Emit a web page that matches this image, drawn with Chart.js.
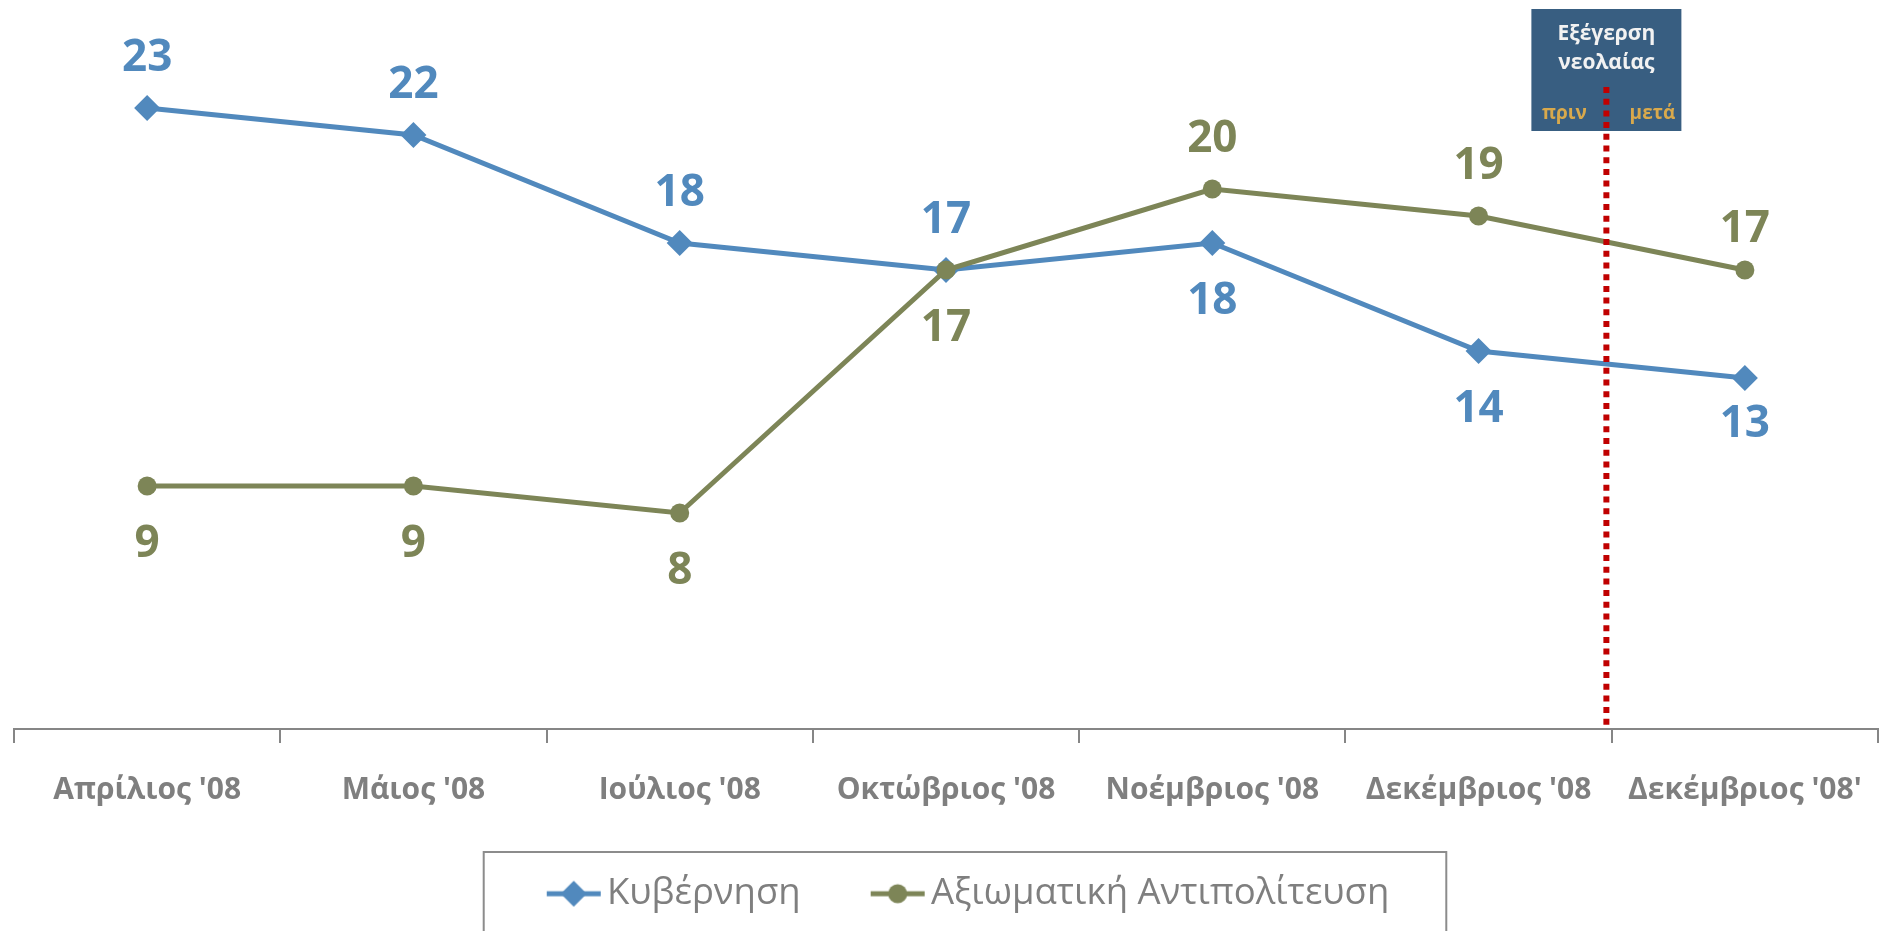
<!DOCTYPE html>
<html>
<head>
<meta charset="utf-8">
<script src="https://cdn.jsdelivr.net/npm/chart.js@4.4.1/dist/chart.umd.min.js"></script>
<style>
  html, body { margin: 0; padding: 0; background: #fff; }
  #wrap { width: 1881px; height: 931px; }
</style>
</head>
<body>
<div id="wrap"><canvas id="chart" width="1881" height="931"></canvas></div>
<script>
const months = ["Απρίλιος '08", "Μάιος '08", "Ιούλιος '08", "Οκτώβριος '08", "Νοέμβριος '08", "Δεκέμβριος '08", "Δεκέμβριος '08'"];
const government = [23, 22, 18, 17, 18, 14, 13];
const opposition = [9, 9, 8, 17, 20, 19, 17];
const seriesNames = ["Κυβέρνηση", "Αξιωματική Αντιπολίτευση"];
// which side of the point each value label goes
const governmentLabelSide = ["above", "above", "above", "above", "below", "below", "below"];
const oppositionLabelSide = ["below", "below", "below", "below", "above", "above", "above"];
const eventTitle = ["Εξέγερση", "νεολαίας"];
const eventSides = ["πριν", "μετά"];

const blue = "#5189bd";
const olive = "#7d8557";
const grey = "#7f7f7f";
const FONT = "'Open Sans', sans-serif";

Chart.defaults.font.family = FONT;

// legend symbol: short line with the marker in the middle.
// the canvas is wider than the symbol, blank on the left, so the
// symbol sits close to its text and the gap goes before it
function legendMarker(color, shape) {
  const c = document.createElement("canvas");
  c.width = 120;
  c.height = 30;
  const g = c.getContext("2d");
  const mx = 62 + 29;
  g.strokeStyle = color;
  g.lineWidth = 5;
  g.beginPath();
  g.moveTo(mx - 27, 15);
  g.lineTo(mx + 27, 15);
  g.stroke();
  g.fillStyle = color;
  g.beginPath();
  if (shape === "diamond") {
    g.moveTo(mx, 2);
    g.lineTo(mx + 13, 15);
    g.lineTo(mx, 28);
    g.lineTo(mx - 13, 15);
    g.closePath();
  } else {
    g.arc(mx, 15, 9.5, 0, Math.PI * 2);
  }
  g.fill();
  return c;
}
const markers = [legendMarker(blue, "diamond"), legendMarker(olive, "circle")];

const valueLabels = {
  id: "valueLabels",
  afterDatasetsDraw(chart) {
    const ctx = chart.ctx;
    ctx.save();
    ctx.font = "bold 44px " + FONT;
    ctx.textAlign = "center";
    ctx.textBaseline = "middle";
    chart.data.datasets.forEach((ds, i) => {
      const meta = chart.getDatasetMeta(i);
      ctx.fillStyle = ds.borderColor;
      meta.data.forEach((pt, j) => {
        const isLast = j === ds.data.length - 1;
        const dy = ds.labelSide[j] === "above" ? (isLast ? -41 : -50) : (isLast ? 46 : 58);
        ctx.fillText(ds.data[j], pt.x, pt.y + dy);
      });
    });
    ctx.restore();
  },
};

// box + dotted line between the two December surveys
const eventMarker = {
  id: "eventMarker",
  afterDatasetsDraw(chart) {
    const { ctx, chartArea, scales } = chart;
    const cx = scales.x.getPixelForValue(5.48);
    ctx.save();
    ctx.fillStyle = "#385e81";
    ctx.fillRect(cx - 75, 9, 150, 122);
    ctx.textAlign = "center";
    ctx.textBaseline = "middle";
    ctx.fillStyle = "#f2f2f2";
    ctx.font = "bold 21px " + FONT;
    ctx.fillText(eventTitle[0], cx, 34);
    ctx.fillText(eventTitle[1], cx, 63);
    ctx.fillStyle = "#d9a94c";
    ctx.font = "bold 19px " + FONT;
    ctx.fillText(eventSides[0], cx - 42, 114);
    ctx.fillText(eventSides[1], cx + 46, 114);
    ctx.strokeStyle = "#c00000";
    ctx.lineWidth = 6;
    ctx.setLineDash([6, 5.7]);
    ctx.beginPath();
    ctx.moveTo(cx, 87);
    ctx.lineTo(cx, chartArea.bottom);
    ctx.stroke();
    ctx.restore();
  },
};

const LEGEND_SHIFT = -3;
const legendFrame = {
  id: "legendFrame",
  afterLayout(chart) {
    chart.legend.left += LEGEND_SHIFT;
    chart.legend.right += LEGEND_SHIFT;
  },
  afterDraw(chart) {
    const boxes = chart.legend.legendHitBoxes;
    const first = boxes[0];
    const last = boxes[boxes.length - 1];
    const left = first.left - 13;
    const right = last.left + last.width + 57;
    const ctx = chart.ctx;
    ctx.save();
    ctx.strokeStyle = "#8c8c8c";
    ctx.lineWidth = 2;
    ctx.strokeRect(left, 852, right - left, 120);
    ctx.restore();
  },
};

new Chart(document.getElementById("chart"), {
  type: "line",
  data: {
    labels: months,
    datasets: [
      {
        label: seriesNames[0],
        data: government,
        labelSide: governmentLabelSide,
        borderColor: blue,
        backgroundColor: blue,
        borderWidth: 5,
        pointStyle: "rectRot",
        pointRadius: 13,
        pointBorderWidth: 0,
        pointBackgroundColor: blue,
        order: 1,
      },
      {
        label: seriesNames[1],
        data: opposition,
        labelSide: oppositionLabelSide,
        borderColor: olive,
        backgroundColor: olive,
        borderWidth: 5,
        pointStyle: "circle",
        pointRadius: 9.5,
        pointBorderWidth: 0,
        pointBackgroundColor: olive,
        order: 0,
      },
    ],
  },
  options: {
    responsive: false,
    animation: false,
    layout: {
      autoPadding: false,
      padding: { top: 0, left: 14, right: 3, bottom: 9 },
    },
    plugins: {
      tooltip: { enabled: false },
      legend: {
        position: "bottom",
        labels: {
          usePointStyle: true,
          pointStyleWidth: 92,
          padding: 20,
          color: grey,
          font: { size: 36.5 },
          generateLabels: (chart) =>
            chart.data.datasets.map((ds, i) => ({
              text: ds.label,
              pointStyle: markers[i],
              fillStyle: ds.borderColor,
              strokeStyle: ds.borderColor,
              lineWidth: 0,
              hidden: false,
              datasetIndex: i,
              fontColor: grey,
            })),
        },
      },
    },
    scales: {
      x: {
        offset: true,
        afterFit: (scale) => {
          scale.height = 126.5;
          scale.paddingLeft = 0;
          scale.paddingRight = 0;
        },
        grid: {
          offset: true,
          drawOnChartArea: false,
          drawTicks: true,
          tickLength: 14,
          color: "#868686",
          lineWidth: 2,
        },
        border: { display: true, color: "#868686", width: 2 },
        ticks: {
          color: grey,
          padding: 29,
          font: { size: 30, weight: "bold" },
          maxRotation: 0,
          autoSkip: false,
        },
      },
      y: {
        display: false,
        min: 0,
        max: 27,
      },
    },
  },
  plugins: [valueLabels, eventMarker, legendFrame],
});
</script>
</body>
</html>
